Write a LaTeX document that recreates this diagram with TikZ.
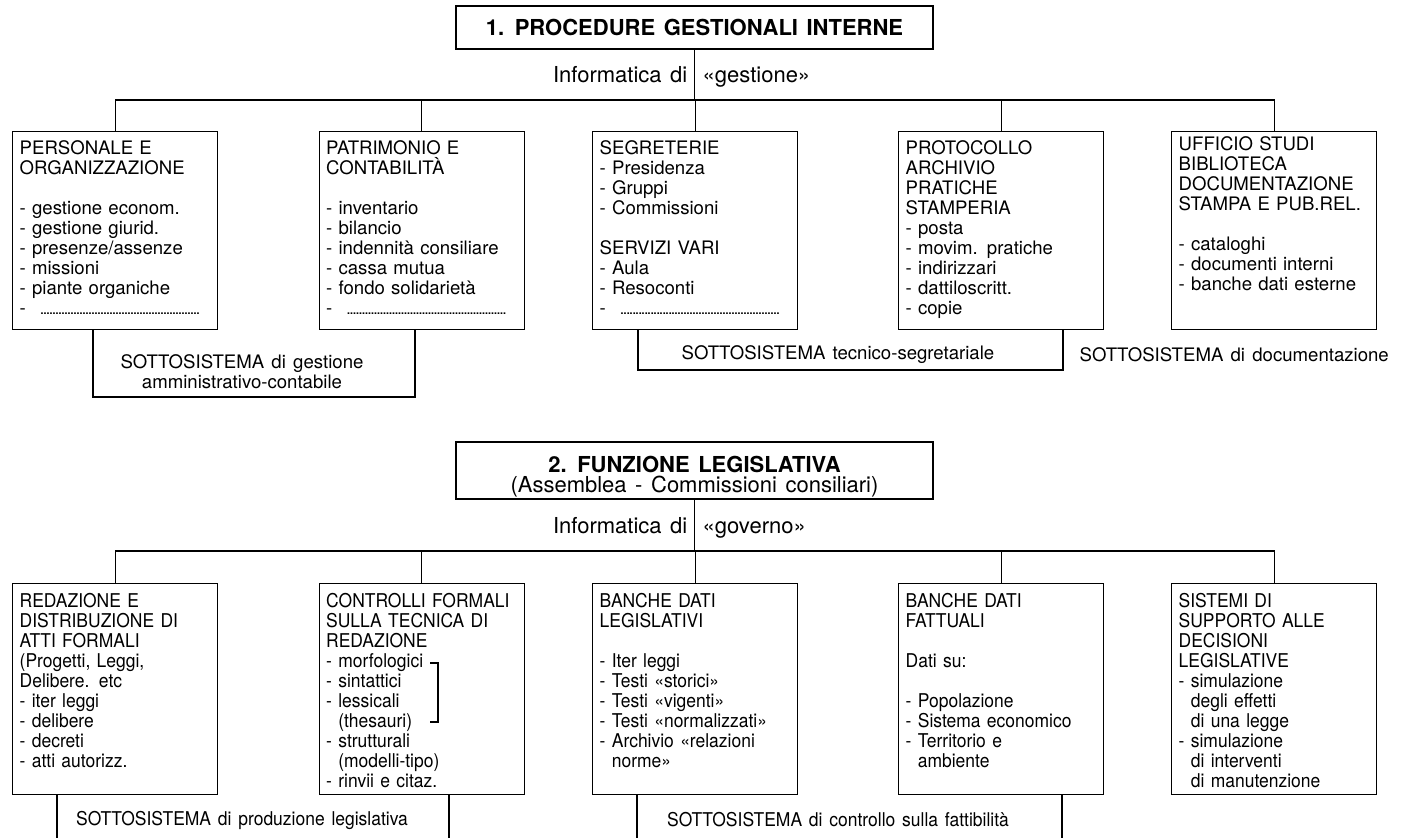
\documentclass[tikz,border=0pt]{standalone}
\usepackage{fontspec}
\setmainfont{TeX Gyre Heros}[WordSpace=1.4]
\newfontfamily\condfont{TeX Gyre Heros}[WordSpace=1.4, FakeStretch=0.92]
\newcommand{\indnt}{\phantom{- }}
\newcommand{\dotrow}{- \hspace{3pt}\leaders\hbox to 1.5pt{\hss\footnotesize.\hss}\hskip 82pt\mbox{}}
\tikzset{
  every picture/.style={line width=0.7pt},
  headbox/.style={draw, align=center, minimum width=238.5pt},
  upbox/.style={draw, anchor=north west, align=left, inner xsep=3.5pt, inner ysep=3pt,
    text width=95.5pt, text height=8.34pt, text depth=84.66pt, font=\fontsize{9.3}{10}\selectfont},
  lowbox/.style={upbox, text height=8.9pt, text depth=90.6pt, font=\condfont\fontsize{9.5}{10}\selectfont},
  infolabel/.style={inner sep=0pt, font=\fontsize{11}{12}\selectfont},
  subsys/.style={align=center, inner sep=0pt, font=\fontsize{9.3}{10}\selectfont},
  subsyslow/.style={subsys, font=\condfont\fontsize{9.5}{10}\selectfont}
}

\begin{document}
\begin{tikzpicture}[x=0.5pt, y=-0.5pt]

  \useasboundingbox (0,0) rectangle (1408,838);

  % 1. internal procedures
  \node [headbox, minimum height=21.5pt, font=\fontsize{11}{10.5}\selectfont\bfseries] (proc) at (694.5,27.5) {1. PROCEDURE GESTIONALI INTERNE};
  \node [infolabel, anchor=base east] (infgest) at (688,83) {Informatica di};
  \node [infolabel, anchor=base west] (gest) at (702,83) {«gestione»};
  \coordinate (bus1) at (694.5,100);

  \node [upbox] (pers) at (12,131) {PERSONALE E\\ORGANIZZAZIONE\\[10pt]- gestione econom.\\- gestione giurid.\\- presenze/assenze\\- missioni\\- piante organiche\\\dotrow};
  \node [upbox] (patr) at (318.5,131) {PATRIMONIO E\\CONTABILITÀ\\[10pt]- inventario\\- bilancio\\- indennità consiliare\\- cassa mutua\\- fondo solidarietà\\\dotrow};
  \node [upbox] (segr) at (592,131) {SEGRETERIE\\- Presidenza\\- Gruppi\\- Commissioni\\[10pt]SERVIZI VARI\\- Aula\\- Resoconti\\\dotrow};
  \node [upbox] (prot) at (898,131) {PROTOCOLLO\\ARCHIVIO\\PRATICHE\\STAMPERIA\\- posta\\- movim. pratiche\\- indirizzari\\- dattiloscritt.\\- copie};
  \node [upbox, text height=6.34pt, text depth=86.66pt] (uff) at (1171,131) {UFFICIO STUDI\\BIBLIOTECA\\DOCUMENTAZIONE\\STAMPA E PUB.REL.\\[10pt]- cataloghi\\- documenti interni\\- banche dati esterne};

  \draw (proc.south) -- (bus1);
  \foreach \n in {pers,patr,segr,prot,uff} \draw (\n.north) |- (bus1);

  % subsystems of part 1
  \node [subsys] (amm) at (242,372) {SOTTOSISTEMA di gestione\\amministrativo-contabile};
  \coordinate (amml) at (93,397);
  \coordinate (ammr) at (415,397);
  \draw (pers.south -| amml) -- (amml) -- (ammr) -- (patr.south -| ammr);

  \node [subsys] (tec) at (838,355) {SOTTOSISTEMA tecnico-segretariale};
  \coordinate (tecl) at (638,370);
  \coordinate (tecr) at (1063,370);
  \draw (segr.south -| tecl) -- (tecl) -- (tecr) -- (prot.south -| tecr);

  \node [subsys, anchor=west] (doc) at (1079,355) {SOTTOSISTEMA di documentazione};

  % 2. legislative function
  \node [headbox, inner ysep=0pt, text height=25.5pt, text depth=3pt, font=\fontsize{11}{10}\selectfont] (funz) at (694.5,470.5) {\textbf{2. FUNZIONE LEGISLATIVA}\\(Assemblea - Commissioni consiliari)};
  \node [infolabel, anchor=base east] (infgov) at (688,534) {Informatica di};
  \node [infolabel, anchor=base west] (gov) at (702,534) {«governo»};
  \coordinate (bus2) at (694.5,551);

  \node [lowbox] (reda) at (12,583) {REDAZIONE E\\DISTRIBUZIONE DI\\ATTI FORMALI\\(Progetti, Leggi,\\Delibere. etc\\- iter leggi\\- delibere\\- decreti\\- atti autorizz.};
  \node [lowbox] (cont) at (318.5,583) {CONTROLLI FORMALI\\SULLA TECNICA DI\\REDAZIONE\\- morfologici\\- sintattici\\- lessicali\\\indnt(thesauri)\\- strutturali\\\indnt(modelli-tipo)\\- rinvii e citaz.};
  \node [lowbox] (bleg) at (592,583) {BANCHE DATI\\LEGISLATIVI\\[10pt]- Iter leggi\\- Testi «storici»\\- Testi «vigenti»\\- Testi «normalizzati»\\- Archivio «relazioni\\\indnt norme»};
  \node [lowbox] (bfat) at (898,583) {BANCHE DATI\\FATTUALI\\[10pt]Dati su:\\[10pt]- Popolazione\\- Sistema economico\\- Territorio e\\\indnt ambiente};
  \node [lowbox] (sist) at (1171,583) {SISTEMI DI\\SUPPORTO ALLE\\DECISIONI\\LEGISLATIVE\\- simulazione\\\indnt degli effetti\\\indnt di una legge\\- simulazione\\\indnt di interventi\\\indnt di manutenzione};

  \draw (funz.south) -- (bus2);
  \foreach \n in {reda,cont,bleg,bfat,sist} \draw (\n.north) |- (bus2);

  % bracket of the grammar checks
  \draw [line width=0.6pt] (430,663) -| (438,722) -- (430,722);

  % subsystems of part 2
  \node [subsyslow] (prod) at (242,820) {SOTTOSISTEMA di produzione legislativa};
  \coordinate (prodl) at (57,838);
  \coordinate (prodr) at (449,838);
  \draw (reda.south -| prodl) -- (prodl);
  \draw (cont.south -| prodr) -- (prodr);

  \node [subsyslow] (fatt) at (838,820) {SOTTOSISTEMA di controllo sulla fattibilità};
  \coordinate (fattl) at (637,838);
  \coordinate (fattr) at (1062,838);
  \draw (bleg.south -| fattl) -- (fattl);
  \draw (bfat.south -| fattr) -- (fattr);

\end{tikzpicture}
\end{document}
